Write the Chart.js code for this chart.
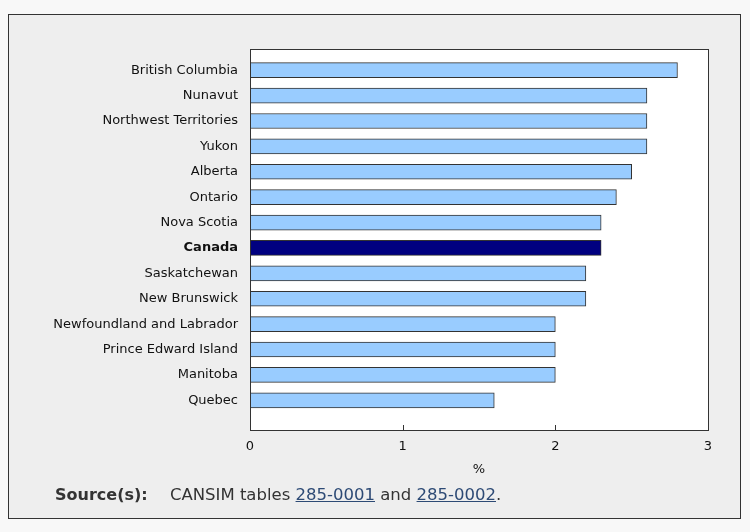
<!DOCTYPE html>
<html>
<head>
<meta charset="utf-8">
<script src="https://cdn.jsdelivr.net/npm/chart.js@4.4.0/dist/chart.umd.min.js"></script>
<style>
  body { margin: 0; background: #f8f8f8; }
  #wrap { position: relative; width: 750px; height: 532px; }
  #source {
    position: absolute; left: 55px; top: 485px;
    font-family: "DejaVu Sans", Verdana, sans-serif; font-size: 16.5px; color: #333;
    white-space: nowrap;
  }
  #source b { color: #333; font-size: 16px; margin-right: 17px; }
  #source a { color: #2d4a75; text-decoration: underline; }
</style>
</head>
<body>
<div id="wrap">
  <canvas id="myChart" width="750" height="532"></canvas>
  <div id="source"><b>Source(s):</b> CANSIM tables <a href="#">285-0001</a> and <a href="#">285-0002</a>.</div>
</div>
<script>
const provinces = ['British Columbia', 'Nunavut', 'Northwest Territories', 'Yukon', 'Alberta',
  'Ontario', 'Nova Scotia', 'Canada', 'Saskatchewan', 'New Brunswick',
  'Newfoundland and Labrador', 'Prince Edward Island', 'Manitoba', 'Quebec'];
const growth = [2.8, 2.6, 2.6, 2.6, 2.5, 2.4, 2.3, 2.3, 2.2, 2.2, 2.0, 2.0, 2.0, 1.6];
const xTicks = [0, 1, 2, 3];

const fontFam = '"DejaVu Sans", Verdana, sans-serif';

// frame, grey box and inner tick marks
const framePlugin = {
  id: 'frame',
  beforeDraw(chart) {
    const c = chart.ctx;
    const a = chart.chartArea;
    c.save();
    c.fillStyle = '#f8f8f8';
    c.fillRect(0, 0, chart.width, chart.height);
    c.fillStyle = '#eeeeee';
    c.fillRect(8, 14, 733, 505);
    c.strokeStyle = '#333';
    c.lineWidth = 1;
    c.strokeRect(8.5, 14.5, 732, 504);
    c.fillStyle = '#fff';
    c.fillRect(a.left, 49, a.right - a.left, 382);
    c.restore();
  },
  afterDatasetsDraw(chart) {
    const c = chart.ctx;
    const a = chart.chartArea;
    const xs = chart.scales.x;
    c.save();
    c.strokeStyle = '#333';
    c.lineWidth = 1;
    c.strokeRect(Math.round(a.left) + 0.5, 49.5, Math.round(a.right - a.left), 381);
    xTicks.slice(1, -1).forEach(v => {
      const px = Math.round(xs.getPixelForValue(v)) + 0.5;
      c.beginPath();
      c.moveTo(px, 430);
      c.lineTo(px, 425);
      c.stroke();
    });
    c.restore();
  }
};

const ctx = document.getElementById('myChart').getContext('2d');
const myChart = new Chart(ctx, {
  type: 'bar',
  data: {
    labels: provinces,
    datasets: [{
      data: growth,
      backgroundColor: provinces.map(p => p === 'Canada' ? '#000080' : '#99ccff'),
      borderColor: '#333',
      borderWidth: 1,
      barThickness: 15
    }]
  },
  options: {
    indexAxis: 'y',
    responsive: false,
    animation: false,
    layout: { padding: { top: 57.5, right: 42, bottom: 49, left: 0 } },
    plugins: { legend: { display: false }, tooltip: { enabled: false } },
    scales: {
      x: {
        min: 0, max: 3,
        afterFit(scale) { scale.height = 70; },
        afterBuildTicks(scale) { scale.ticks = xTicks.map(v => ({ value: v })); },
        grid: { display: false, drawTicks: false },
        border: { display: false },
        ticks: { padding: 26, color: '#111', font: { family: fontFam, size: 13 } },
        title: {
          display: true, text: '%', color: '#111',
          font: { family: fontFam, size: 13 },
          padding: { top: 0, bottom: 6 }
        }
      },
      y: {
        afterFit(scale) { scale.width = 250; },
        grid: { display: false, drawTicks: false },
        border: { display: false },
        ticks: {
          padding: 12,
          color: '#111',
          font: ctx => ({
            family: fontFam, size: 13,
            weight: provinces[ctx.index] === 'Canada' ? 'bold' : 'normal'
          })
        }
      }
    }
  },
  plugins: [framePlugin]
});
</script>
</body>
</html>
